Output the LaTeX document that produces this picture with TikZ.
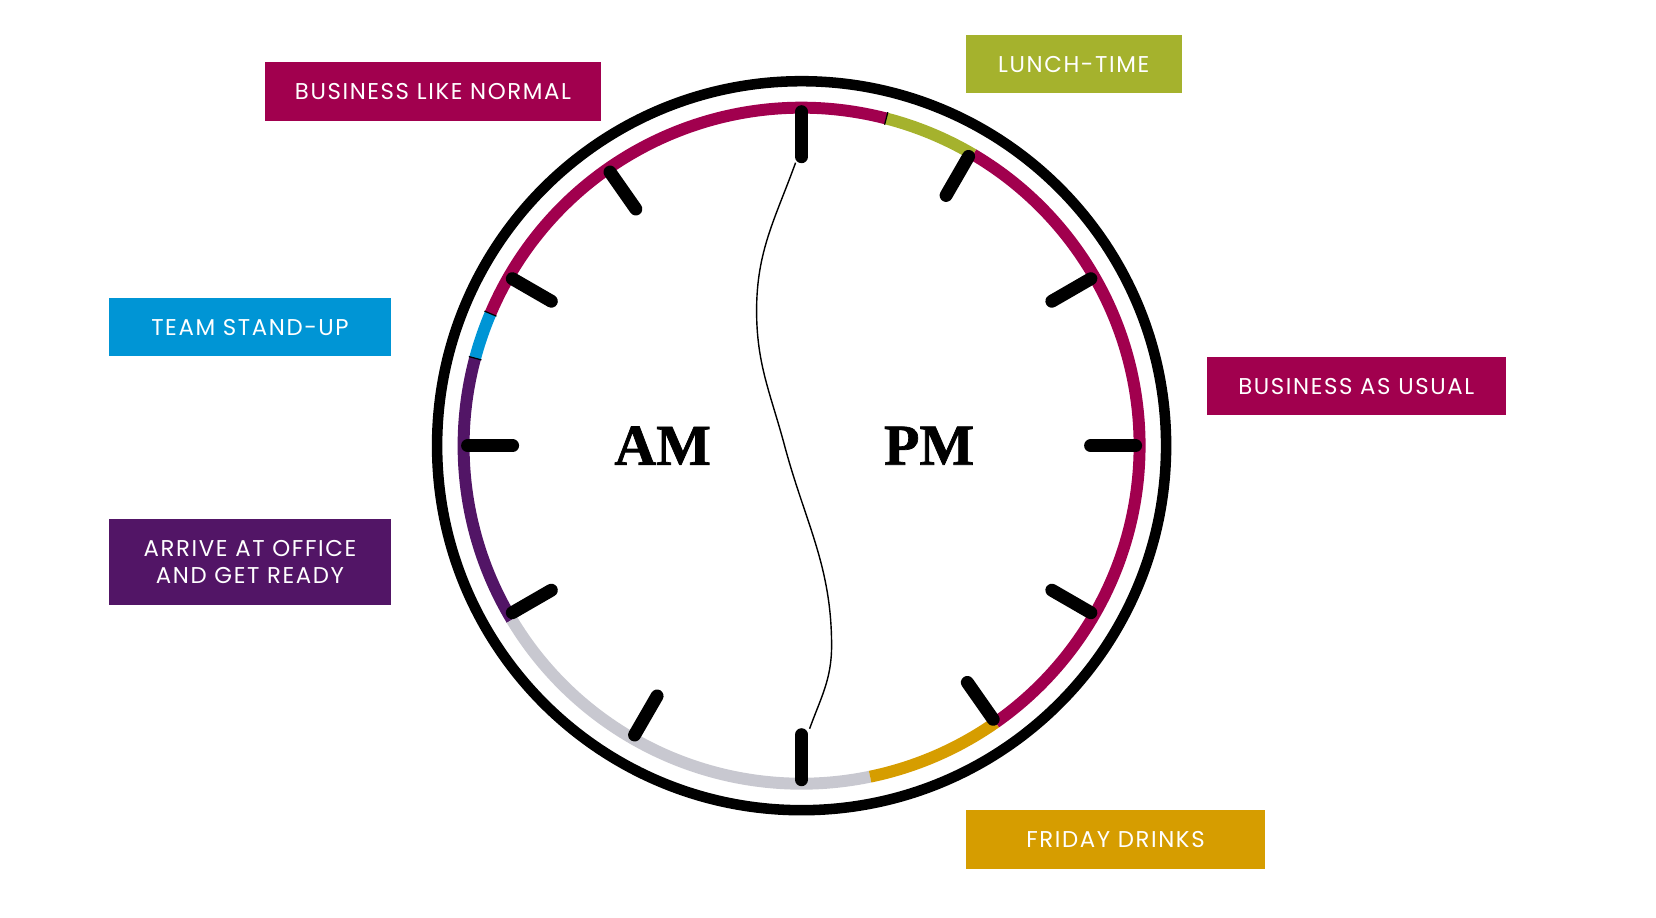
\documentclass[tikz,border=0pt]{standalone}
\usepackage{fontspec}
\setmainfont{Poppins}
\newfontfamily\tagfont{Poppins}[LetterSpace=7]
\newfontfamily\clockfont{Liberation Serif}[BoldFeatures={FakeBold=1.2}]
\definecolor{SlotMagenta}{HTML}{A1004E}
\definecolor{SlotLime}{HTML}{A5B22D}
\definecolor{SlotBlue}{HTML}{0095D5}
\definecolor{SlotPurple}{HTML}{521566}
\definecolor{SlotGold}{HTML}{D69D00}
\definecolor{SlotGrey}{HTML}{C8C8D0}
\tikzset{tag/.style={fill=#1,text=white,align=center,inner sep=0pt,minimum height=1.17cm,font=\tagfont\fontsize{13}{15.5}\selectfont},band/.style={line width=6.8pt,draw=#1},hourmark/.style={line width=7.4pt,line cap=round},sep/.style={line width=0.7pt}}

\begin{document}
\begin{tikzpicture}[x=0.02cm,y=0.02cm]
\useasboundingbox (-801.6,-471.3) rectangle (854.4,445.7);
% clock rim and coloured day ring
\draw[line width=6pt] (0,0) circle[radius=364.5];
\draw[band=SlotMagenta] (-55:338) arc[start angle=-55,end angle=59.5,radius=338];
\draw[band=SlotLime] (59.5:338) arc[start angle=59.5,end angle=75.5,radius=338];
\draw[band=SlotMagenta] (75.5:338) arc[start angle=75.5,end angle=157,radius=338];
\draw[band=SlotBlue] (157:338) arc[start angle=157,end angle=165,radius=338];
\draw[band=SlotPurple] (165:338) arc[start angle=165,end angle=211,radius=338];
\draw[band=SlotGrey] (211:338) arc[start angle=211,end angle=281.7,radius=338];
\draw[band=SlotGold] (-78.3:338) arc[start angle=-78.3,end angle=-55,radius=338];
\foreach \a in {75.5,157,165} \draw[sep] (\a:331.5) -- (\a:344.5);
\foreach \a in {90,60,30,0,-30,-55,-90,-120,-150,180,150,125} \draw[hourmark] (\a:289) -- (\a:334);
% am / pm split
\coordinate (noon) at (-6,283);
\coordinate (amedge) at (-45,135);
\coordinate (mid) at (-17,0);
\coordinate (pmedge) at (30,-200);
\coordinate (midnight) at (8,-283);
\draw[line width=0.8pt] (noon) to[out=250,in=90] (amedge) to[out=270,in=105] (mid) to[out=285,in=90] (pmedge) to[out=270,in=70] (midnight);
\node[font=\clockfont\bfseries\fontsize{33}{33}\selectfont] (am) at (-139,0) {AM};
\node[font=\clockfont\bfseries\fontsize{33}{33}\selectfont] (pm) at (127.5,0) {PM};
% time slots
\node[tag=SlotMagenta,minimum width=6.72cm] (normal) at (-368.6,354.4) {BUSINESS LIKE NORMAL};
\node[tag=SlotLime,minimum width=4.31cm] (lunch) at (272.2,381.5) {LUNCH-TIME};
\node[tag=SlotBlue,minimum width=5.64cm] (standup) at (-551.6,118.5) {TEAM STAND-UP};
\node[tag=SlotPurple,minimum width=5.64cm,minimum height=1.71cm] (arrive) at (-551.6,-116.1) {ARRIVE AT OFFICE\\AND GET READY};
\node[tag=SlotMagenta,minimum width=5.99cm] (usual) at (554.7,59.5) {BUSINESS AS USUAL};
\node[tag=SlotGold,minimum width=5.98cm] (drinks) at (313.9,-393.8) {FRIDAY DRINKS};
\end{tikzpicture}
\end{document}
